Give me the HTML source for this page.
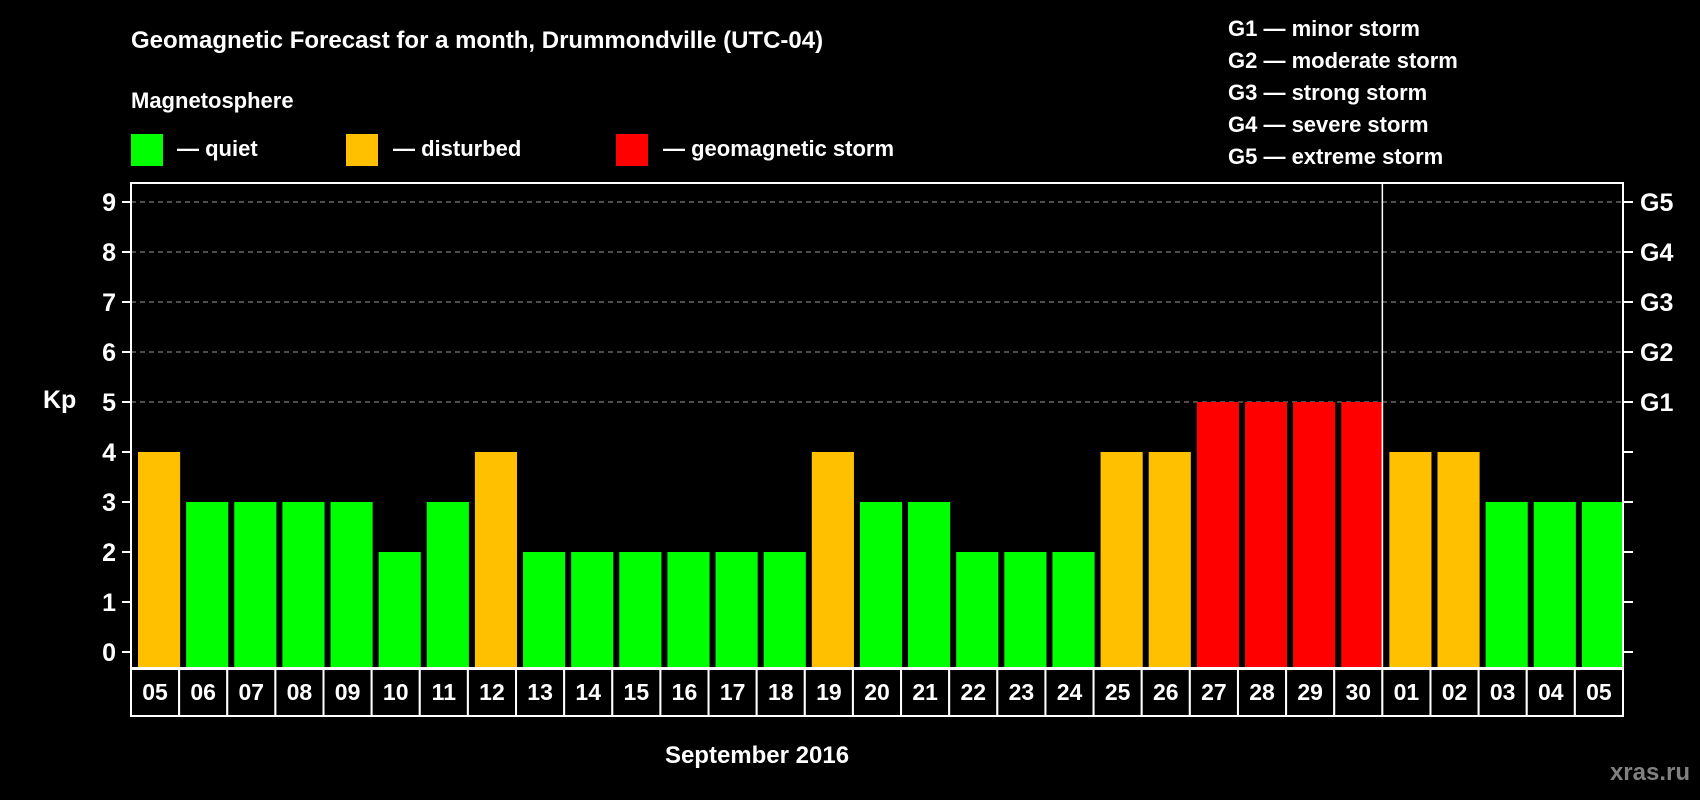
<!DOCTYPE html>
<html><head><meta charset="utf-8"><style>
html,body{margin:0;padding:0;background:#000;}
svg{display:block;font-family:"Liberation Sans",Arial,sans-serif;font-weight:bold;}
</style></head><body>
<svg id="chart" width="1700" height="800" viewBox="0 0 1700 800">
<rect x="0" y="0" width="1700" height="800" fill="#000"/>
<text x="131" y="48" fill="#fff" font-size="24">Geomagnetic Forecast for a month, Drummondville (UTC-04)</text>
<text x="131" y="108" fill="#fff" font-size="22">Magnetosphere</text>
<g><rect x="131" y="134" width="32" height="32" fill="#00ff00"/><text x="177" y="156" fill="#fff" font-size="22">— quiet</text></g>
<g><rect x="346" y="134" width="32" height="32" fill="#ffc000"/><text x="393" y="156" fill="#fff" font-size="22">— disturbed</text></g>
<g><rect x="616" y="134" width="32" height="32" fill="#ff0000"/><text x="663" y="156" fill="#fff" font-size="22">— geomagnetic storm</text></g>
<g fill="#fff" font-size="22">
<text x="1228" y="36">G1 — minor storm</text>
<text x="1228" y="68">G2 — moderate storm</text>
<text x="1228" y="100">G3 — strong storm</text>
<text x="1228" y="132">G4 — severe storm</text>
<text x="1228" y="164">G5 — extreme storm</text>
</g>
<text x="43" y="408" fill="#fff" font-size="25">Kp</text>
<text x="757" y="763" fill="#fff" font-size="24" text-anchor="middle">September 2016</text>
<text x="1690" y="780" fill="#808080" font-size="24" text-anchor="end">xras.ru</text>
<g id="plot"></g>
</svg>
<script>
const days = ["05","06","07","08","09","10","11","12","13","14","15","16","17","18","19","20","21","22","23","24","25","26","27","28","29","30","01","02","03","04","05"];
const kp = [4,3,3,3,3,2,3,4,2,2,2,2,2,2,4,3,3,2,2,2,4,4,5,5,5,5,4,4,3,3,3];
const yTicks = [0,1,2,3,4,5,6,7,8,9];
const gLabels = ["G1","G2","G3","G4","G5"];
const gLevels = [5,6,7,8,9];
const monthBreak = 26;

const NS="http://www.w3.org/2000/svg";
const L=131,R=1623,T=183,B=668;
const pitch=(R-L)/days.length;
const y=v=>652-v*50;
const x=i=>L+i*pitch;
const g=document.getElementById('plot');
function mk(t,a){const e=document.createElementNS(NS,t);for(const k in a)e.setAttribute(k,a[k]);g.appendChild(e);return e;}
gLevels.forEach(v=>{
 const e=mk('line',{x1:L,x2:R,y1:y(v),y2:y(v),stroke:'#999','stroke-dasharray':'5,4','stroke-width':1});
 
 
});
kp.forEach((v,i)=>{
 const c=v>=5?'#ff0000':(v>=4?'#ffc000':'#00ff00');
 const e=mk('rect',{x:x(i)+7,y:y(v),width:pitch-6,height:B-y(v),fill:c});
 
 
});
yTicks.forEach(v=>{
 const t1=mk('line',{x1:L-9,x2:L,y1:y(v),y2:y(v),stroke:'#fff','stroke-width':2});
 
 
 const t2=mk('line',{x1:R,x2:R+10,y1:y(v),y2:y(v),stroke:'#fff','stroke-width':2});
 
 
 const tx=mk('text',{x:116,y:y(v)+9,fill:'#fff','font-size':25,'text-anchor':'end'});
 tx.textContent=v;
 
 
});
gLevels.forEach((v,i)=>{
 const tx=mk('text',{x:1640,y:y(v)+9,fill:'#fff','font-size':25});
 tx.textContent=gLabels[i];
 
 
});
const fr=mk('rect',{x:L,y:T,width:R-L,height:B-T,fill:'none',stroke:'#fff','stroke-width':2});


const sep=mk('line',{x1:x(monthBreak),x2:x(monthBreak),y1:T,y2:B,stroke:'#fff','stroke-width':1.5});


days.forEach((d,i)=>{
 const b=mk('rect',{x:x(i),y:669,width:pitch,height:47,fill:'#000',stroke:'#fff','stroke-width':2});
 
 
 const t=mk('text',{x:x(i)+pitch/2,y:700,fill:'#fff','font-size':23,'text-anchor':'middle'});
 t.textContent=d;
 
 
});
</script>
</body></html>
